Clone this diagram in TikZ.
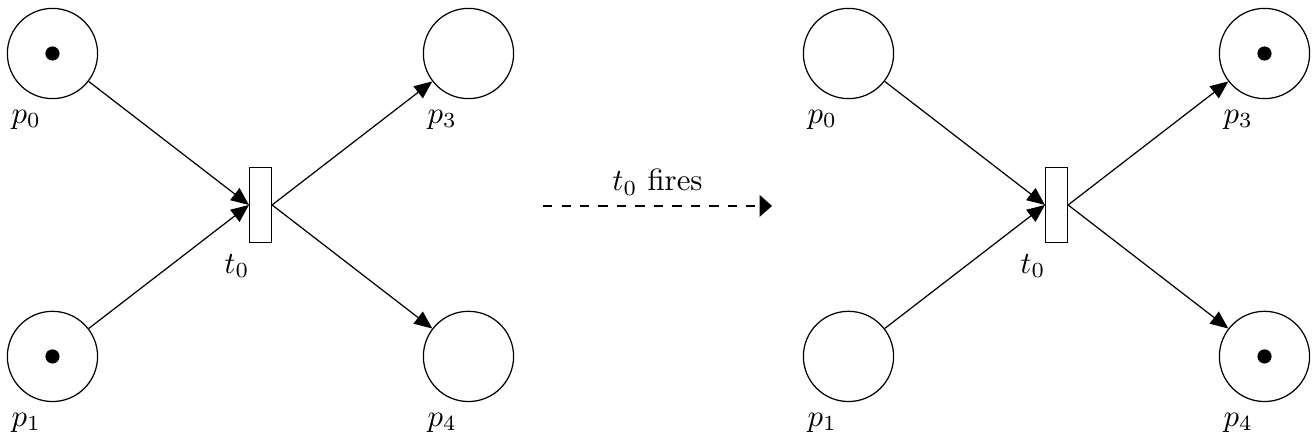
\documentclass[tikz,border=0pt]{standalone}
\usepackage{tikz}
\usetikzlibrary{arrows.meta,positioning}

\tikzset{
  place/.style={draw,circle,line width=0.4pt,minimum size=1.03cm,inner sep=0pt},
  transition/.style={draw,rectangle,line width=0.4pt,minimum width=0.25cm,minimum height=0.86cm,inner sep=0pt},
  marked/.style={path picture={\fill (path picture bounding box.center) circle (2.3pt);}},
  arc/.style={-{Triangle[length=5.8pt,width=4.9pt]}},
}

\begin{document}
\begin{tikzpicture}
  \useasboundingbox (0,0) rectangle (15,5.011);

  % net before firing
  \node[place,marked,label={[xshift=-0.3cm]below:$p_0$}] (p0) at (0.599,4.400) {};
  \node[place,marked,label={[xshift=-0.3cm]below:$p_1$}] (p1) at (0.599,0.942) {};
  \node[transition,label={[xshift=-0.27cm]below:$t_0$}] (t0) at (2.974,2.671) {};
  \node[place,label={[xshift=-0.3cm]below:$p_3$}] (p3) at (5.348,4.400) {};
  \node[place,label={[xshift=-0.3cm]below:$p_4$}] (p4) at (5.348,0.942) {};
  \draw[arc] (p0) -- (t0.west);
  \draw[arc] (p1) -- (t0.west);
  \draw[arc] (t0.east) -- (p3);
  \draw[arc] (t0.east) -- (p4);

  % firing step
  \coordinate (fireA) at (6.199,2.660);
  \coordinate (fireB) at (8.813,2.660);
  \draw[dashed,-{Triangle[length=4pt,width=7pt]}] (fireA) -- node[above] {$t_0$ fires} (fireB);

  % net after firing
  \node[place,label={[xshift=-0.3cm]below:$p_0$}] (q0) at (9.686,4.400) {};
  \node[place,label={[xshift=-0.3cm]below:$p_1$}] (q1) at (9.686,0.942) {};
  \node[transition,label={[xshift=-0.27cm]below:$t_0$}] (u0) at (12.061,2.671) {};
  \node[place,marked,label={[xshift=-0.3cm]below:$p_3$}] (q3) at (14.435,4.400) {};
  \node[place,marked,label={[xshift=-0.3cm]below:$p_4$}] (q4) at (14.435,0.942) {};
  \draw[arc] (q0) -- (u0.west);
  \draw[arc] (q1) -- (u0.west);
  \draw[arc] (u0.east) -- (q3);
  \draw[arc] (u0.east) -- (q4);
\end{tikzpicture}
\end{document}
